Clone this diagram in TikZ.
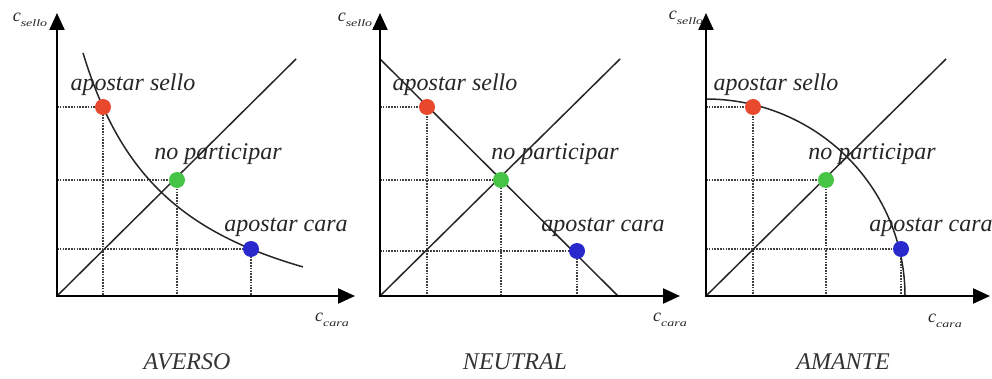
\documentclass[tikz,border=0pt]{standalone}
\usepackage{fontspec}
\setmainfont{Liberation Serif}
\usetikzlibrary{arrows.meta}
\definecolor{dred}{RGB}{232,72,44}
\definecolor{dgreen}{RGB}{70,196,70}
\definecolor{dblue}{RGB}{40,40,205}
\newcommand\axislab[1]{{\fontsize{18}{18}\selectfont\itshape c}\raisebox{-5pt}{\scalebox{1.4}[1]{\fontsize{10}{10}\selectfont\itshape #1}}}
\begin{document}
\begin{tikzpicture}[x=1pt,y=-1pt,
 axes/.style={line width=2.2pt, {Triangle[length=17pt,width=15pt]}-{Triangle[length=17pt,width=15pt]}},
 curve/.style={line width=1.5pt, black!85},
 guide/.style={line width=1.2pt, black!75, dash pattern=on 1.6pt off 1.2pt},
 dot/.style={circle, inner sep=0pt, minimum size=16pt},
 lab/.style={inner sep=0pt, font=\fontsize{24}{24}\selectfont\itshape, text=black!85},
 ttl/.style={inner sep=0pt, font=\fontsize{24}{24}\selectfont\itshape, text=black!80},
 axlab/.style={inner sep=0pt, text=black!85}]
\useasboundingbox (0,0) rectangle (992,379);

% ---------- Panel 1: AVERSO ----------
\coordinate (O1) at (57,296);
\coordinate (r1) at (103,107);
\coordinate (g1) at (177,180);
\coordinate (b1) at (251,249);
\foreach \p in {r1,g1,b1}{\draw[guide] (\p -| O1) -- (\p) -- (\p |- O1);}
\draw[curve] (O1) -- (296,59);
\draw[curve] plot[domain=26:246, samples=80, smooth] ({57+\x},{296-(-60.8+(280.78/(\x+66.4))*100)});
\node[dot, fill=dred] (R1) at (r1) {};
\node[dot, fill=dgreen] (G1) at (g1) {};
\node[dot, fill=dblue] (B1) at (b1) {};
\draw[axes] (57,13) -- (O1) -- (355,296);
\node[lab] (ls1) at (133,85) {apostar sello};
\node[lab] (ln1) at (218,154) {no participar};
\node[lab] (lc1) at (286,227) {apostar cara};
\node[axlab] (ys1) at (30,20) {\axislab{sello}};
\node[axlab] (xc1) at (332,320) {\axislab{cara}};
\node[ttl] (t1) at (187,362) {AVERSO};

% ---------- Panel 2: NEUTRAL ----------
\coordinate (O2) at (380,296);
\coordinate (r2) at (427,107);
\coordinate (g2) at (501,180);
\coordinate (b2) at (577,251);
\foreach \p in {r2,g2,b2}{\draw[guide] (\p -| O2) -- (\p) -- (\p |- O2);}
\draw[curve] (O2) -- (620,59);
\draw[curve] (380,59) -- (618,296);
\node[dot, fill=dred] (R2) at (r2) {};
\node[dot, fill=dgreen] (G2) at (g2) {};
\node[dot, fill=dblue] (B2) at (b2) {};
\draw[axes] (380,13) -- (O2) -- (680,296);
\node[lab] (ls2) at (455,85) {apostar sello};
\node[lab] (ln2) at (555,154) {no participar};
\node[lab] (lc2) at (603,227) {apostar cara};
\node[axlab] (ys2) at (355,20) {\axislab{sello}};
\node[axlab] (xc2) at (670,320) {\axislab{cara}};
\node[ttl] (t2) at (515,362) {NEUTRAL};

% ---------- Panel 3: AMANTE ----------
\coordinate (O3) at (706,296);
\coordinate (r3) at (753,107);
\coordinate (g3) at (826,180);
\coordinate (b3) at (901,249);
\foreach \p in {r3,g3,b3}{\draw[guide] (\p -| O3) -- (\p) -- (\p |- O3);}
\draw[curve] (O3) -- (946,59);
\draw[curve] plot[domain=0:90, samples=80, smooth] ({706+199*cos(\x)},{296-197*sin(\x)});
\node[dot, fill=dred] (R3) at (r3) {};
\node[dot, fill=dgreen] (G3) at (g3) {};
\node[dot, fill=dblue] (B3) at (b3) {};
\draw[axes] (706,13) -- (O3) -- (990,296);
\node[lab] (ls3) at (776,85) {apostar sello};
\node[lab] (ln3) at (872,154) {no participar};
\node[lab] (lc3) at (931,227) {apostar cara};
\node[axlab] (ys3) at (686,18) {\axislab{sello}};
\node[axlab] (xc3) at (945,321) {\axislab{cara}};
\node[ttl] (t3) at (843,362) {AMANTE};
\end{tikzpicture}
\end{document}
